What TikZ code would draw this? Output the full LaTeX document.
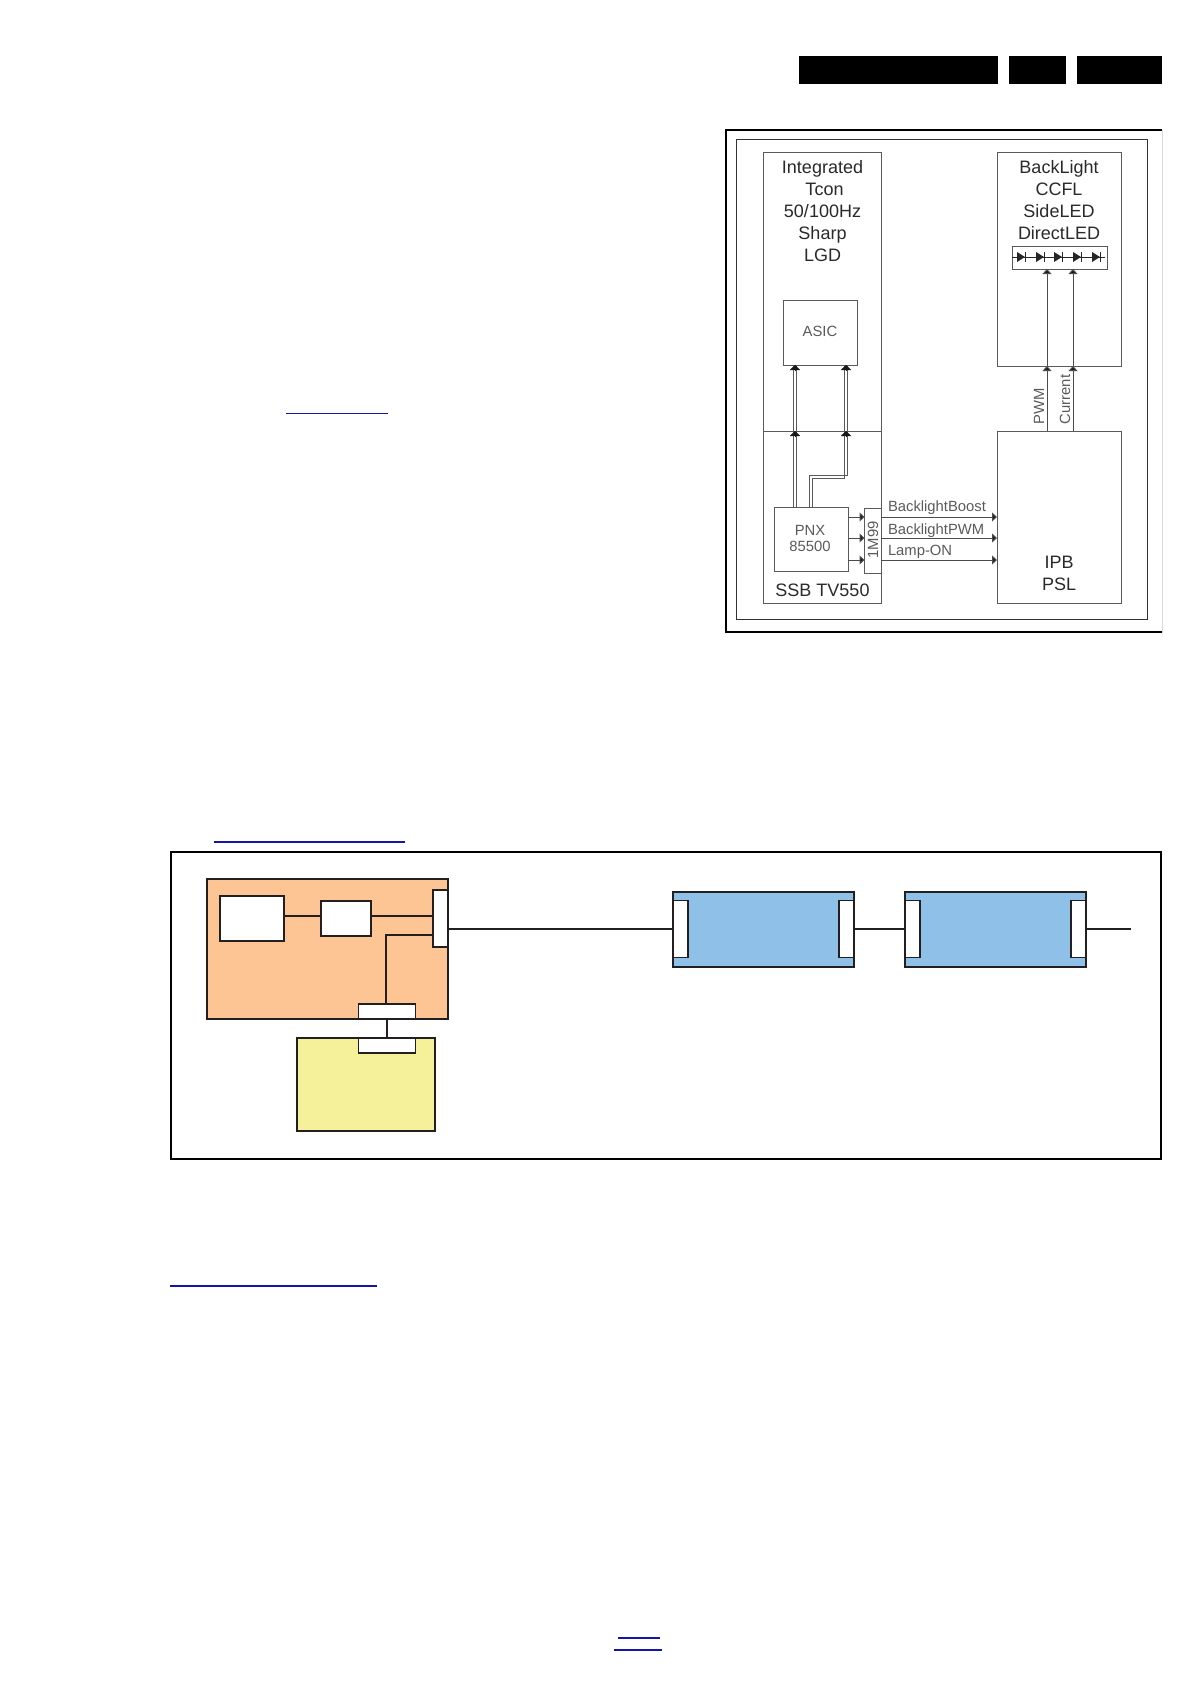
\documentclass[tikz,border=0pt]{standalone}
\usepackage{fontspec}
\setmainfont{Liberation Sans}
\usetikzlibrary{arrows.meta}
\definecolor{inkline}{HTML}{231F20}
\definecolor{boxline}{HTML}{5A5A5A}
\definecolor{boxtext}{HTML}{2A2A2A}
\definecolor{boardorange}{HTML}{FDC593}
\definecolor{boardblue}{HTML}{8FC0E8}
\definecolor{boardyellow}{HTML}{F5F19B}
\definecolor{linkblue}{HTML}{1414A8}
\begin{document}
\begin{tikzpicture}[x=1pt, y=-1pt, every node/.style={inner sep=0pt, outer sep=0pt},
	block/.style={draw=boxline, line width=1pt, fill=white},
	bigtext/.style={text=boxtext, font=\fontsize{18}{22.2}\selectfont, align=center},
	smalltext/.style={text=boxline, font=\fontsize{14.8}{16.5}\selectfont, align=center},
	signal/.style={draw=black!70, line width=1pt, -{Triangle[length=5pt, width=9pt, fill=black!90]}},
	busline/.style={draw=boxline, line width=1pt},
	bustip/.style={draw=black!90, line width=0.3pt, -{Triangle[length=5pt, width=10pt, fill=black!90]}},
	board/.style={draw=inkline, line width=2pt},
	port/.style={draw=inkline, line width=1.6pt, fill=white},
	wire/.style={draw=inkline, line width=1.8pt},
	linkline/.style={draw=linkblue, line width=1.2pt}]
	\useasboundingbox (0, 0) rectangle (1191, 1684);
	\node[fill=black, minimum width=199pt, minimum height=28pt] (barA) at (898.5, 70) {};
	\node[fill=black, minimum width=57pt, minimum height=28pt] (barB) at (1037.5, 70) {};
	\node[fill=black, minimum width=85pt, minimum height=28pt] (barC) at (1119.5, 70) {};
	\draw[linkline] (286, 413.5) -- (388, 413.5);
	\draw[linkline] (214, 842) -- (405, 842);
	\draw[linkline] (170, 1286) -- (377, 1286);
	\draw[linkline] (618, 1638) -- (660, 1638);
	\draw[linkline] (614, 1650) -- (662, 1650);

	\node[draw=black!15, line width=1pt, minimum width=436pt, minimum height=502pt] (outer) at (944, 381) {};
	\draw[black, line width=2.2pt] (outer.north east) -- (outer.north west) -- (outer.south west) -- (outer.south east);
	\node[draw=black!80, line width=1pt, minimum width=411pt, minimum height=480pt] (inner) at (941.5, 379) {};
	\node[block, minimum width=118pt, minimum height=279pt] (tcon) at (822.5, 291.5) {};
	\node[block, minimum width=118pt, minimum height=172pt] (ssb) at (822.5, 517) {};
	\node[block, minimum width=124pt, minimum height=214pt] (backlight) at (1059, 259) {};
	\node[block, minimum width=124pt, minimum height=172pt] (ipb) at (1059, 517) {};
	\node[block, minimum width=74pt, minimum height=65pt] (asic) at (820, 332.5) {};
	\node[block, minimum width=74pt, minimum height=64pt] (pnx) at (811, 539) {};
	\node[block, minimum width=17pt, minimum height=65pt] (m99) at (873, 540.5) {};
	\node[block, minimum width=95pt, minimum height=23pt] (led) at (1059.5, 257.5) {};

	\node[bigtext, anchor=north] (tcontext) at (822.5, 160) {Integrated\\\hspace*{4pt}Tcon\\50/100Hz\\Sharp\\LGD};
	\node[bigtext, anchor=north] (backlighttext) at (1059, 160) {BackLight\\CCFL\\SideLED\\DirectLED};
	\node[smalltext] (asictext) at (820, 331) {ASIC};
	\node[smalltext] (pnxtext) at (810, 538.5) {PNX\\85500};
	\node[bigtext] (ssbtext) at (822.5, 590.5) {SSB TV550};
	\node[bigtext] (ipbtext) at (1059, 573) {IPB\\PSL};
	\node[smalltext, rotate=90] (m99text) at (873, 540) {1M99};
	\node[smalltext, rotate=90, anchor=west] (pwmtext) at (1039, 424) {PWM};
	\node[smalltext, rotate=90, anchor=west] (currenttext) at (1065, 424) {Current};
	\node[smalltext, anchor=base west] (boosttext) at (888, 511.5) {BacklightBoost};
	\node[smalltext, anchor=base west] (pwmsigtext) at (888, 534) {BacklightPWM};
	\node[smalltext, anchor=base west] (lamptext) at (888, 555) {Lamp-ON};

	\coordinate (boost) at (881, 517);
	\coordinate (pwmsig) at (881, 538);
	\coordinate (lamp) at (881, 560);
	\foreach \s in {boost, pwmsig, lamp} {
		\draw[signal] (pnx.east |- \s) -- (m99.west |- \s);
		\draw[signal] (\s) -- (ipb.west |- \s);
	}
	\coordinate (pwmup) at (1047, 431);
	\coordinate (currentup) at (1073, 431);
	\foreach \s in {pwmup, currentup} {
		\draw[signal] (\s) -- (backlight.south -| \s);
		\draw[signal] (backlight.south -| \s) -- (led.south -| \s);
	}
	\coordinate (busleft) at (795, 431);
	\coordinate (busright) at (846, 431);
	\coordinate (busbend) at (811, 477);
	\coordinate (busknee) at (846, 477);
	\foreach \d in {-1.4, 1.4} {
		\draw[busline] ([xshift=\d pt]busleft |- pnx.north) -- ([xshift=\d pt]busleft |- asic.south);
		\draw[busline] ([xshift=\d pt]busbend |- pnx.north) -- ([xshift=\d pt, yshift=-\d pt]busbend) -- ([xshift=-\d pt, yshift=-\d pt]busknee) -- ([xshift=-\d pt]busright |- asic.south);
	}
	\foreach \s in {busleft, busright} {
		\draw[bustip] ([yshift=-5pt]\s) -- (\s);
		\draw[bustip] ([yshift=-5pt]\s |- asic.south) -- (\s |- asic.south);
	}

	\draw[draw=black!85, line width=1pt] (1012, 257) -- (1105, 257);
	\foreach \x in {1022, 1041, 1059, 1078, 1097} {
		\fill[black!85] (\x-5, 252) -- (\x+3, 257) -- (\x-5, 262) -- cycle;
		\draw[black!85, line width=1.4pt] (\x+3.5, 252) -- (\x+3.5, 262);
	}

	\node[draw=black, line width=2pt, minimum width=990pt, minimum height=307pt] (lower) at (666, 1005.5) {};
	\node[board, fill=boardorange, minimum width=241pt, minimum height=140pt] (ssbboard) at (327.5, 949) {};
	\node[board, fill=boardyellow, minimum width=138pt, minimum height=93pt] (yellowboard) at (366, 1084.5) {};
	\node[board, fill=boardblue, minimum width=181pt, minimum height=75pt] (blueA) at (763.5, 929.5) {};
	\node[board, fill=boardblue, minimum width=181pt, minimum height=75pt] (blueB) at (995.5, 929.5) {};
	\node[port, minimum width=64pt, minimum height=45pt] (boxA) at (252, 918.5) {};
	\node[port, minimum width=50pt, minimum height=35pt] (boxB) at (346, 918.5) {};
	\node[port, minimum width=15pt, minimum height=57pt] (portR) at (440.5, 918.5) {};
	\node[port, minimum width=57pt, minimum height=15pt] (portD) at (387, 1011.5) {};
	\node[port, minimum width=57pt, minimum height=15pt] (portY) at (387, 1045.5) {};
	\node[port, minimum width=15pt, minimum height=57pt] (portAl) at (680.5, 929) {};
	\node[port, minimum width=15pt, minimum height=57pt] (portAr) at (846.5, 929) {};
	\node[port, minimum width=15pt, minimum height=57pt] (portBl) at (912.5, 929) {};
	\node[port, minimum width=15pt, minimum height=57pt] (portBr) at (1078.5, 929) {};

	\coordinate (busA) at (300, 916);
	\coordinate (busB) at (386, 935);
	\coordinate (tail) at (1131, 929);
	\draw[wire] (boxA.east |- busA) -- (boxB.west |- busA);
	\draw[wire] (boxB.east |- busA) -- (portR.west |- busA);
	\draw[wire] (portR.west |- busB) -- (busB) -- (busB |- portD.north);
	\draw[wire] (portD.south) -- (portY.north);
	\draw[wire] (portR.east |- portAl.west) -- (portAl.west);
	\draw[wire] (portAr.east) -- (portBl.west);
	\draw[wire] (portBr.east) -- (tail);
\end{tikzpicture}
\end{document}
